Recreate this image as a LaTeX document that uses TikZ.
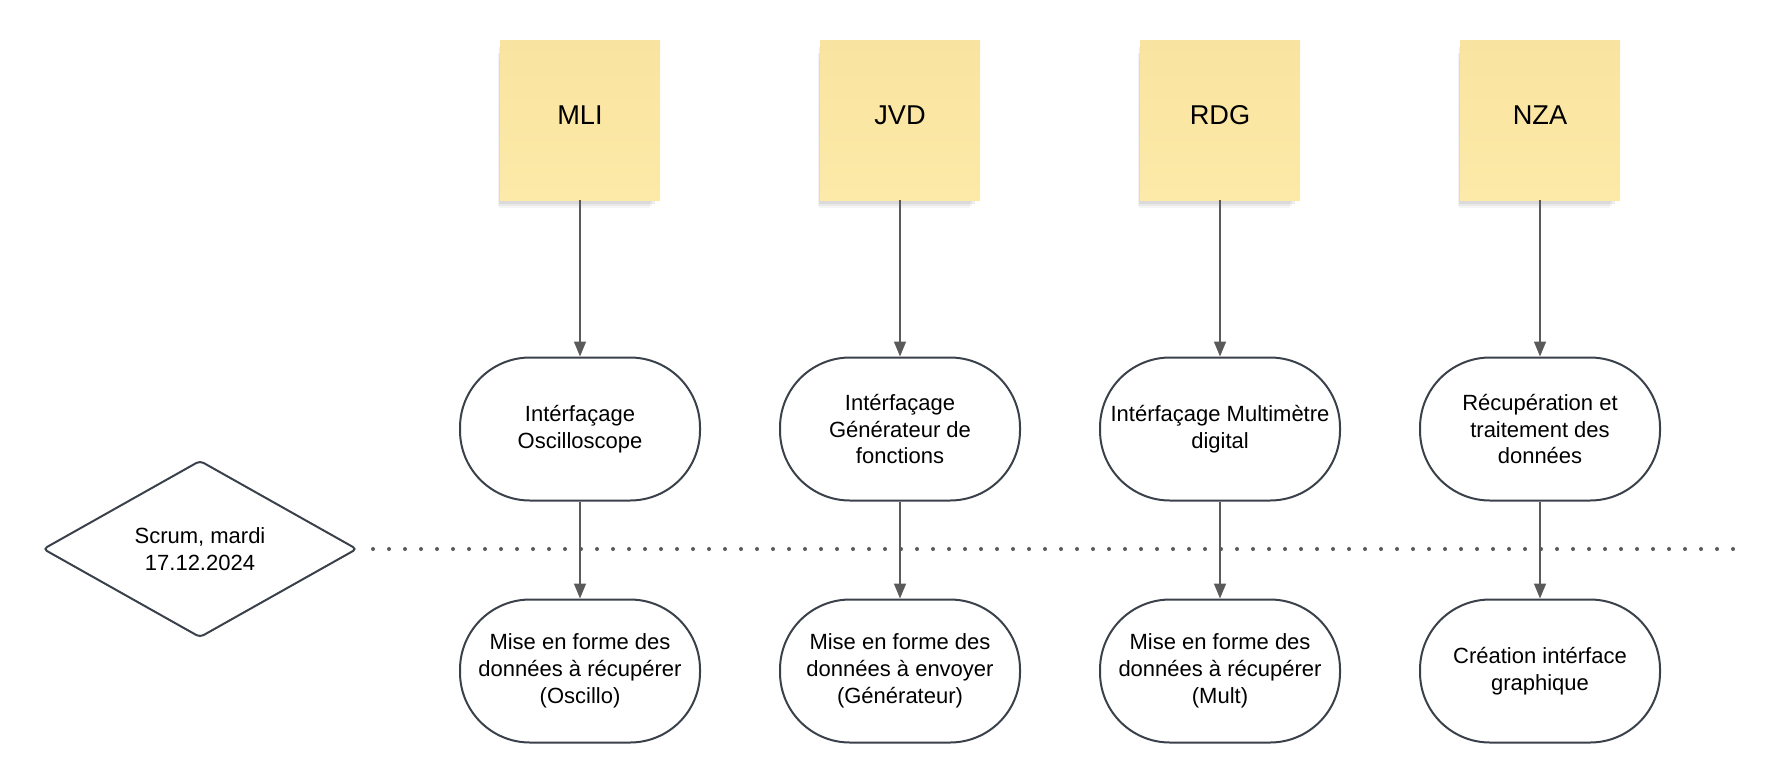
\documentclass[tikz,border=0pt]{standalone}
\usepackage{fontspec}
\setmainfont{Liberation Sans}
\usetikzlibrary{shapes.geometric,arrows.meta,shadows}
\definecolor{stickyfill}{RGB}{253,234,168}
\definecolor{stickytop}{RGB}{249,227,160}
\definecolor{edgegray}{RGB}{58,65,74}
\definecolor{arrowgray}{RGB}{90,90,90}

\begin{document}
\begin{tikzpicture}[x=0.5pt, y=-0.5pt,
    sticky/.style ={rectangle, minimum size=80pt, inner sep=0pt, top color=stickytop, bottom color=stickyfill, text depth=5pt, font=\fontsize{13.6pt}{16pt}\selectfont,
        drop shadow={shadow xshift=-3pt, shadow yshift=-7pt, shadow scale=0.94, opacity=0.08},
        drop shadow={shadow xshift=-2.5pt, shadow yshift=-5pt, shadow scale=0.96, opacity=0.1},
        drop shadow={shadow xshift=-1.5pt, shadow yshift=-3pt, shadow scale=0.98, opacity=0.14}},
    task/.style ={rectangle, rounded corners=35pt, draw=edgegray, line width=1pt, fill=white, minimum width=120pt, minimum height=71.5pt, inner sep=0pt, align=center, font=\fontsize{11pt}{13.4pt}\selectfont},
    meeting/.style ={diamond, draw=edgegray, line width=1pt, rounded corners=2pt, fill=white, minimum width=157pt, minimum height=88.5pt, inner sep=0pt, align=center, font=\fontsize{11pt}{13.4pt}\selectfont},
    link/.style ={draw=arrowgray, line width=0.75pt, -{Triangle[length=7.5pt, width=6pt]}},
    timeline/.style ={draw=arrowgray, line width=2pt, line cap=round, dash pattern=on 0pt off 8pt}]
   \useasboundingbox (0,0) rectangle (1780,782);
   \node[sticky] (MLI) at (580,120) {MLI};
   \node[sticky] (JVD) at (900,120) {JVD};
   \node[sticky] (RDG) at (1220,120) {RDG};
   \node[sticky] (NZA) at (1540,120) {NZA};
   \node[task] (M1) at (580,429) {Intérfaçage\\Oscilloscope};
   \node[task] (J1) at (900,429) {Intérfaçage\\Générateur de\\fonctions};
   \node[task] (R1) at (1220,429) {Intérfaçage Multimètre\\digital};
   \node[task] (N1) at (1540,429) {Récupération et\\traitement des\\données};
   \node[task] (M2) at (580,671) {Mise en forme des\\données à récupérer\\(Oscillo)};
   \node[task] (J2) at (900,671) {Mise en forme des\\données à envoyer\\(Générateur)};
   \node[task] (R2) at (1220,671) {Mise en forme des\\données à récupérer\\(Mult)};
   \node[task] (N2) at (1540,671) {Création intérface\\graphique};
   \node[meeting] (scrum) at (200,549) {Scrum, mardi\\17.12.2024};
   \coordinate (lineend) at (1738,549);
   \draw[timeline] ([xshift=7.5pt]scrum.east) -- (lineend);
   \draw[link] (MLI) -- (M1);
   \draw[link] (JVD) -- (J1);
   \draw[link] (RDG) -- (R1);
   \draw[link] (NZA) -- (N1);
   \draw[link] (M1) -- (M2);
   \draw[link] (J1) -- (J2);
   \draw[link] (R1) -- (R2);
   \draw[link] (N1) -- (N2);
\end{tikzpicture}
\end{document}
